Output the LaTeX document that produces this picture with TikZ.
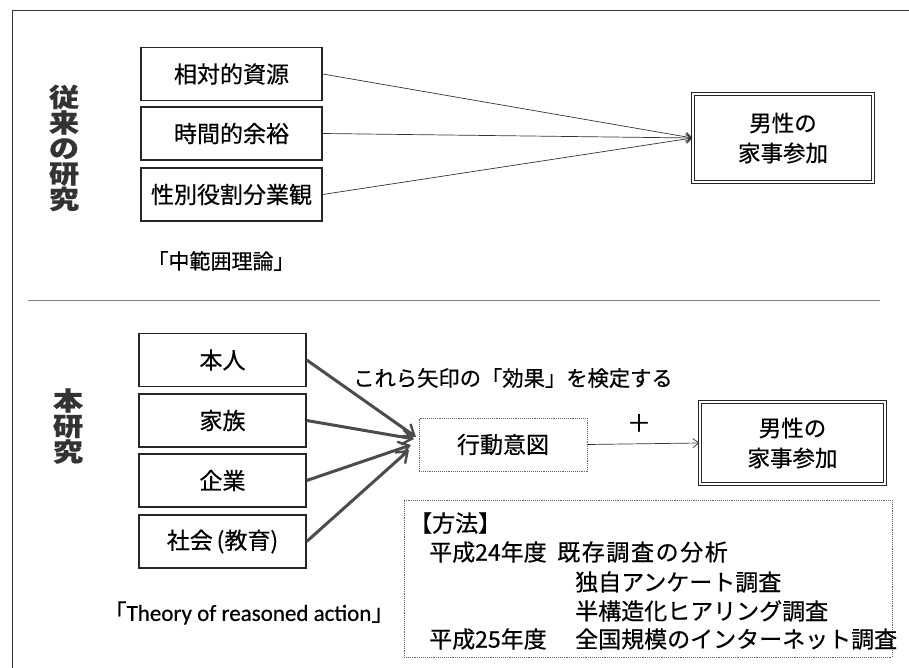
\documentclass[tikz,border=0pt]{standalone}
\usepackage{fontspec}
\setmainfont{Noto Sans CJK JP}[FakeBold=0.5]
\newfontfamily\latinfont{Carlito}[FakeBold=0.5]
\usetikzlibrary{arrows.meta}
\newcommand{\wc}[1]{\scalebox{1.18}[1]{#1}}
\begin{document}
\begin{tikzpicture}[x=1pt,y=-1pt,
  bx/.style={draw=black!85, line width=1.4pt, minimum width=#1, minimum height=53pt, inner sep=0pt, font=\fontsize{23}{27}\selectfont},
  dbx/.style={draw=black!85, double, double distance=2.4pt, line width=1.1pt, inner sep=0pt, align=center, font=\fontsize{22.5}{30}\selectfont},
  dotbx/.style={draw=black!60, densely dotted, line width=0.9pt, inner sep=0pt},
  vlab/.style={align=center, font=\bfseries\fontsize{25.5}{25.5}\selectfont, text=black!80},
  txt/.style={inner sep=0pt, font=\fontsize{23}{27}\selectfont},
  thin/.style={draw=black!80, line width=0.7pt, -{Straight Barb[length=6pt,width=9pt,line width=0.7pt]}},
  thick/.style={draw=black!70, line width=3pt, -{Straight Barb[length=10pt,width=15pt,line width=2.4pt]}},
]
\useasboundingbox (0,0) rectangle (909,668);
% outer frame
\draw[black!80, line width=0.9pt] (12,668) -- (12,10) -- (909,10);
% separator
\draw[black!50, line width=0.7pt] (28,300) -- (880,300);

% --- upper section ---
\node[vlab] (l1) at (64,148) {\wc{従}\\\wc{来}\\\wc{の}\\\wc{研}\\\wc{究}};
\node[bx=181pt] (a1) at (231.5,74) {相対的資源};
\node[bx=181pt] (a2) at (231.5,133.5) {時間的余裕};
\node[bx=181pt] (a3) at (231.5,194.5) {性別役割分業観};
\node[dbx, minimum width=180pt, minimum height=88pt] (t1) at (783,138) {男性の\\家事参加};
\draw[thin] (a1.east) -- (t1.west);
\draw[thin] (a2.east) -- (t1.west);
\draw[thin] (a3.east) -- (t1.west);
\node[inner sep=0pt, font=\fontsize{21}{25}\selectfont] (m1) at (221,261) {「中範囲理論」};

% --- lower section ---
\node[vlab] (l2) at (68,426) {\wc{本}\\\wc{研}\\\wc{究}};
\node[bx=167pt] (b1) at (222.5,360) {本人};
\node[bx=167pt] (b2) at (222.5,420.5) {家族};
\node[bx=167pt] (b3) at (222.5,480.5) {企業};
\node[bx=167pt] (b4) at (222.5,541.5) {社会\,(教育)};
\node[dotbx, minimum width=168pt, minimum height=53pt, font=\fontsize{23}{27}\selectfont] (k) at (503,444.5) {行動意図};
\coordinate (p1) at (416,437);
\coordinate (p2) at (414,439);
\coordinate (p3) at (411,445);
\coordinate (p4) at (409,450);
\draw[thick] (b1.east) -- (p1);
\draw[thick] (b2.east) -- (p2);
\draw[thick] (b3.east) -- (p3);
\draw[thick] (b4.east) -- (p4);
\node[inner sep=0pt, font=\fontsize{21.3}{25}\selectfont] (e) at (513,378) {これら矢印の「効果」を検定する};
\node[dbx, minimum width=185pt, minimum height=82pt] (t2) at (792.5,443) {男性の\\家事参加};
\draw[thin] (k.east) -- (t2.west);
\node[inner sep=0pt, font=\fontsize{24}{28}\selectfont] (plus) at (639,423) {＋};

% method box
\node[dotbx, minimum width=488pt, minimum height=157pt] (mb) at (648,578.5) {};
\node[txt, anchor=west] (h) at (409,523) {【方法】};
\node[txt, anchor=west] (y1) at (429,552) {平成24年度};
\node[txt, anchor=west] (y1a) at (557,552) {\addfontfeature{LetterSpace=7}既存調査の分析};
\node[txt, anchor=west] (y1b) at (575,582) {独自アンケート調査};
\node[txt, anchor=west] (y1c) at (575,611) {半構造化ヒアリング調査};
\node[txt, anchor=west] (y2) at (429,639) {平成25年度};
\node[txt, anchor=west] (y2a) at (575,639) {全国規模のインターネット調査};

\node[inner sep=0pt, font=\fontsize{23}{27}\selectfont] (th) at (249,613) {「{\latinfont Theory of reasoned action}」};
\end{tikzpicture}
\end{document}
